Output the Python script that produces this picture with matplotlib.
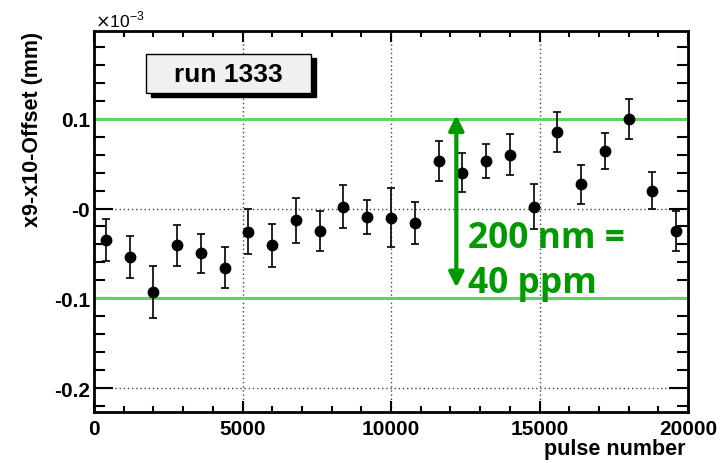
import matplotlib
matplotlib.use("Agg")
import matplotlib.pyplot as plt
from matplotlib.patches import Rectangle, FancyArrowPatch
from matplotlib.ticker import FixedLocator, MultipleLocator

# data (y in units of 1e-3 mm)
pulse = [400, 1200, 2000, 2800, 3600, 4400, 5200, 6000, 6800, 7600, 8400, 9200,
         10000, 10800, 11600, 12400, 13200, 14000, 14800, 15600, 16400, 17200,
         18000, 18800, 19600]
offset = [-0.035, -0.054, -0.093, -0.041, -0.050, -0.066, -0.026, -0.041, -0.013,
          -0.025, 0.002, -0.009, -0.010, -0.016, 0.053, 0.040, 0.053, 0.060,
          0.002, 0.085, 0.027, 0.064, 0.100, 0.020, -0.025]
err = [0.023, 0.023, 0.029, 0.023, 0.022, 0.023, 0.025, 0.024, 0.025, 0.022,
       0.024, 0.019, 0.033, 0.023, 0.022, 0.022, 0.019, 0.023, 0.025, 0.022,
       0.022, 0.020, 0.022, 0.021, 0.022]
band = [0.1, -0.1]
xticks = [0, 5000, 10000, 15000, 20000]
yticks = [-0.2, -0.1, 0.0, 0.1]
ytick_labels = ["-0.2", "-0.1", "-0", "0.1"]

plt.rcParams['font.family'] = ['Liberation Sans', 'DejaVu Sans']
fig = plt.figure(figsize=(7.27, 4.64), dpi=100)
ax = fig.add_axes([94/727, 1-413/464, (688-94)/727, (413-32)/464])

ax.set_xlim(0, 20000)
ax.set_ylim(-0.2267, 0.1978)

# grid
for gx in xticks[1:-1]:
    ax.axvline(gx, color='#444444', lw=1.0, ls=(0, (1, 2)), zorder=1)
for gy in yticks:
    ax.axhline(gy, color='#444444', lw=1.0, ls=(0, (1, 2)), zorder=1)

for b in band:
    ax.axhline(b, color='#5cd65c', lw=2.2, zorder=2)

ax.errorbar(pulse, offset, yerr=err, fmt='o', color='black', ms=7.5,
            elinewidth=1.2, capsize=3, capthick=1.2, zorder=4)

# ticks
ax.xaxis.set_major_locator(FixedLocator(xticks))
ax.xaxis.set_minor_locator(MultipleLocator(1000))
ax.yaxis.set_major_locator(FixedLocator(yticks))
ax.yaxis.set_minor_locator(MultipleLocator(0.02))
ax.set_yticklabels(ytick_labels)
ax.set_xticklabels([str(v) for v in xticks])
ax.tick_params(axis='both', which='both', direction='in', top=True, right=True,
               width=1.5, labelsize=15)
ax.tick_params(axis='x', which='major', length=8, pad=5)
ax.tick_params(axis='x', which='minor', length=4)
ax.tick_params(axis='y', which='major', length=14, pad=3)
ax.tick_params(axis='y', which='minor', length=8)
for lab in ax.get_xticklabels() + ax.get_yticklabels():
    lab.set_fontweight('bold')
for sp in ax.spines.values():
    sp.set_linewidth(2.0)

fig.text(95/727, 1-20/464, r'$\times$10$^{\mathregular{-3}}$', fontsize=12.5,
         ha='left', va='center')
fig.text(33/727, 1-32/464, 'x9-x10-Offset (mm)', rotation=90, fontsize=15.5,
         fontweight='bold', ha='center', va='top')
fig.text(686/727, 1-450/464, 'pulse number', fontsize=15.5, fontweight='bold',
         ha='right', va='center')

# run box
shadow = Rectangle((151/727, 1-98/464), 165/727, 39/464, transform=fig.transFigure,
                   facecolor='black', edgecolor='black', zorder=5)
box = Rectangle((146/727, 1-94/464), 165/727, 39/464, transform=fig.transFigure,
                facecolor='#f0f0f0', edgecolor='black', lw=1.0, zorder=6)
fig.patches.extend([shadow, box])
fig.text(228/727, 1-75/464, 'run 1333', fontsize=19, fontweight='bold',
         ha='center', va='center', zorder=7)

# green annotation
arrow = FancyArrowPatch((12200, -0.088), (12200, 0.104), arrowstyle='<|-|>',
                        mutation_scale=22, color='#009900', lw=3, zorder=5,
                        shrinkA=0, shrinkB=0)
ax.add_patch(arrow)
ax.text(12600, -0.058, '200 nm =\n40 ppm', color='#009900', fontsize=25.5,
        fontweight='bold', family=['Open Sans', 'DejaVu Sans'],
        ha='left', va='center', linespacing=1.32, zorder=6)

fig.savefig('out.png', dpi=100)
